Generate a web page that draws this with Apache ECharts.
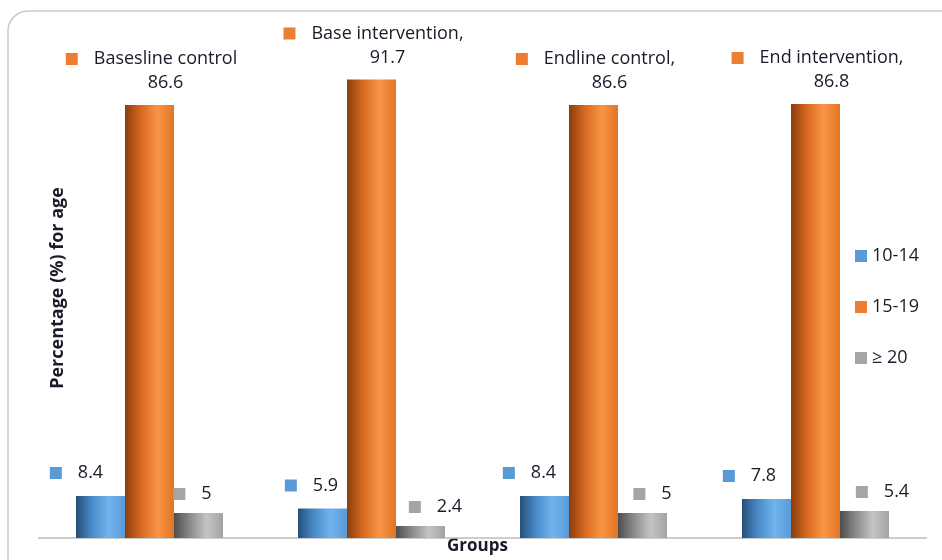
<!DOCTYPE html>
<html>
<head>
<meta charset="utf-8">
<script src="https://cdn.jsdelivr.net/npm/echarts@6/dist/echarts.min.js"></script>
<style>
    html, body { margin: 0; padding: 0; background: #fff; }
    #chart { width: 942px; height: 560px; }
</style>
</head>
<body>
<div id="chart"></div>
<script>
// data
var groups = ['Baseline control', 'Base intervention', 'Endline control', 'End intervention'];
var orangeNames = ['Basesline control', 'Base intervention,', 'Endline control,', 'End intervention,'];
var age10to14 = [8.4, 5.9, 8.4, 7.8];
var age15to19 = [86.6, 91.7, 86.6, 86.8];
var age20plus = [5, 2.4, 5, 5.4];
var seriesNames = ['10-14', '15-19', '≥ 20'];

// 标签水平微调（Excel 里手动拖过的位置）
var blueLabelShift = [-24, -11, -15, -17];
var grayLabelShift = [-6, 15, 10, 18];

var textColor = '#1a1a28';
var font = 'Open Sans';
var keyColors = ['#5b9bd5', '#ed7d31', '#a5a5a5'];

// 柱子渐变（仿 Excel 圆柱效果）
var grad = function (stops) {
    return new echarts.graphic.LinearGradient(0, 0, 1, 0, stops.map(function (c, i) {
        return { offset: i / (stops.length - 1), color: c };
    }));
};

var richKey = function (color) {
    return {
        sq: { width: 12, height: 12, backgroundColor: color },
        gap: { width: 16 },
        sp: { width: 28 },
        v: { fontSize: 18, color: textColor, fontFamily: font }
    };
};

var withShift = function (values, shifts) {
    return values.map(function (v, i) {
        return { value: v, label: { offset: [shifts[i], 0] } };
    });
};

var myChart = echarts.init(document.getElementById('chart'));

var option = {
    animation: false,
    textStyle: { fontFamily: font },
    graphic: [{
        type: 'rect',
        shape: { x: 8, y: 11, width: 960, height: 600, r: 20 },
        style: { fill: 'none', stroke: '#c9c9c9', lineWidth: 1.5 },
        silent: true
    }],
    legend: {
        orient: 'vertical',
        left: 850,
        top: 242,
        itemWidth: 12,
        itemHeight: 12,
        itemGap: 33,
        icon: 'rect',
        textStyle: { fontSize: 18, color: textColor, fontFamily: font },
        data: seriesNames.map(function (n, i) {
            return { name: n, itemStyle: { color: keyColors[i] } };
        })
    },
    grid: {
        left: 38.5,
        right: 15.5,
        top: 38,
        bottom: 22
    },
    xAxis: {
        type: 'category',
        data: groups,
        axisTick: { show: false },
        axisLabel: { show: false },
        axisLine: { lineStyle: { color: '#bdbdbd', width: 1.5 } },
        name: 'Groups',
        nameLocation: 'middle',
        nameGap: 0,
        nameTextStyle: { fontSize: 17, fontWeight: 'bold', color: textColor, fontFamily: font, padding: [0, 10, 0, 0] }
    },
    yAxis: {
        type: 'value',
        min: 0,
        max: 100,
        axisLine: { show: false },
        axisTick: { show: false },
        axisLabel: { show: false },
        splitLine: { show: false },
        name: 'Percentage (%) for age',
        nameLocation: 'middle',
        nameGap: -28,
        nameTextStyle: { fontSize: 18, fontWeight: 'bold', color: textColor, fontFamily: font }
    },
    series: [
        {
            name: seriesNames[0],
            type: 'bar',
            barWidth: 49,
            barGap: '0%',
            data: withShift(age10to14, blueLabelShift),
            itemStyle: { color: grad(['#264f78', '#4a8ccb', '#6fb4ee', '#5a9ad6']) },
            label: {
                show: true,
                position: 'top',
                distance: 14,
                formatter: function (p) { return '{sq|}{gap|}{v|' + p.value + '}'; },
                rich: richKey(keyColors[0])
            }
        },
        {
            name: seriesNames[1],
            type: 'bar',
            barWidth: 49,
            barGap: '0%',
            data: age15to19,
            itemStyle: { color: grad(['#8a3e0c', '#d96a22', '#f99545', '#e27425']) },
            label: {
                show: true,
                position: 'top',
                distance: 10,
                offset: [2, 0],
                lineHeight: 24,
                formatter: function (p) {
                    return '{sq|}{gap|}{v|' + orangeNames[p.dataIndex] + '}\n{sp|}{v|' + p.value + '}';
                },
                rich: richKey(keyColors[1])
            }
        },
        {
            name: seriesNames[2],
            type: 'bar',
            barWidth: 49,
            barGap: '0%',
            data: withShift(age20plus, grayLabelShift),
            itemStyle: { color: grad(['#4d4d4d', '#8c8c8c', '#c4c4c4', '#a3a3a3']) },
            label: {
                show: true,
                position: 'top',
                distance: 10,
                formatter: function (p) { return '{sq|}{gap|}{v|' + p.value + '}'; },
                rich: richKey(keyColors[2])
            }
        }
    ]
};

myChart.setOption(option);
</script>
</body>
</html>
